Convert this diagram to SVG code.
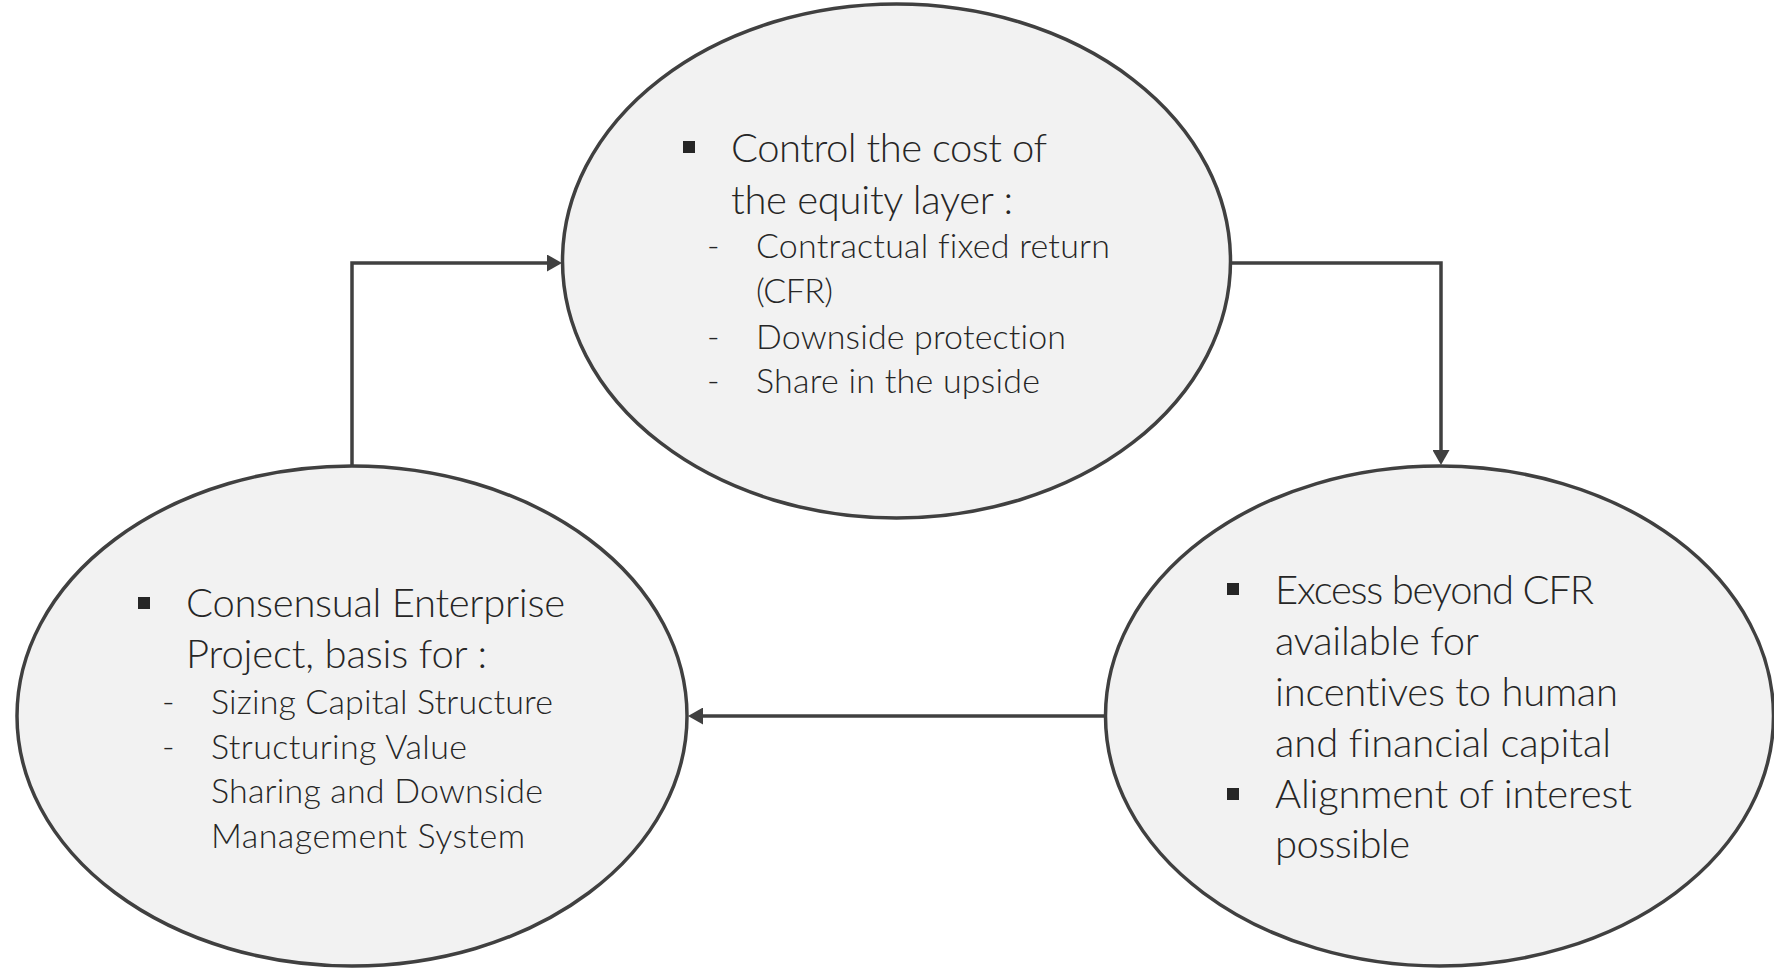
<svg xmlns="http://www.w3.org/2000/svg" width="1774" height="969" viewBox="0 0 1774 969">
  <style>
    .node { fill: #f2f2f2; stroke: #404040; stroke-width: 3.5; }
    .link { fill: none; stroke: #404040; stroke-width: 3.5; }
    text { font-family: Lato, "Open Sans", sans-serif; font-weight: 300; fill: #262626; font-variant-ligatures: none; }
    .main { font-size: 40px; }
    .sub { font-size: 34px; }
    .bullet { fill: #262626; }
  </style>
  <defs>
    <marker id="arrow" markerUnits="userSpaceOnUse" markerWidth="16" markerHeight="17" refX="9" refY="8.5" orient="auto">
      <path d="M0,0 L15,8.5 L0,17 z" fill="#404040"/>
    </marker>
  </defs>

  <rect width="1774" height="969" fill="#ffffff"/>

  <!-- connectors -->
  <g id="connectors">
    <path class="link" d="M352,466 V263 H556" marker-end="url(#arrow)"/>
    <path class="link" d="M1230,263 H1441 V459" marker-end="url(#arrow)"/>
    <path class="link" d="M1106,716 H694" marker-end="url(#arrow)"/>
  </g>

  <!-- equity layer cost control -->
  <g id="node-equity">
    <ellipse class="node" cx="896.5" cy="261" rx="334" ry="257"/>
    <rect class="bullet" x="683" y="141" width="12" height="12"/>
    <text class="main" x="731" y="162" textLength="316">Control the cost of</text>
    <text class="main" x="731" y="214" textLength="282">the equity layer :</text>
    <text class="sub" x="707" y="258">-</text>
    <text class="sub" x="756" y="258" textLength="354">Contractual fixed return</text>
    <text class="sub" x="756" y="303" textLength="77">(CFR)</text>
    <text class="sub" x="707" y="349">-</text>
    <text class="sub" x="756" y="349" textLength="310">Downside protection</text>
    <text class="sub" x="707" y="393">-</text>
    <text class="sub" x="756" y="393" textLength="284">Share in the upside</text>
  </g>

  <!-- excess return and incentives -->
  <g id="node-excess">
    <ellipse class="node" cx="1439.5" cy="716" rx="334" ry="250"/>
    <rect class="bullet" x="1227" y="583" width="12" height="12"/>
    <text class="main" x="1275" y="604" textLength="319">Excess beyond CFR</text>
    <text class="main" x="1275" y="655" textLength="204">available for</text>
    <text class="main" x="1275" y="706" textLength="343">incentives to human</text>
    <text class="main" x="1275" y="757" textLength="336">and financial capital</text>
    <rect class="bullet" x="1227" y="788" width="12" height="12"/>
    <text class="main" x="1275" y="808" textLength="357">Alignment of interest</text>
    <text class="main" x="1275" y="858" textLength="135">possible</text>
  </g>

  <!-- consensual enterprise project -->
  <g id="node-project">
    <ellipse class="node" cx="352" cy="716" rx="335" ry="250"/>
    <rect class="bullet" x="138" y="597" width="12" height="12"/>
    <text class="main" x="186" y="617" textLength="379">Consensual Enterprise</text>
    <text class="main" x="186" y="668" textLength="301">Project, basis for :</text>
    <text class="sub" x="162" y="714">-</text>
    <text class="sub" x="211" y="714" textLength="342">Sizing Capital Structure</text>
    <text class="sub" x="162" y="759">-</text>
    <text class="sub" x="211" y="759" textLength="256">Structuring Value</text>
    <text class="sub" x="211" y="803" textLength="332">Sharing and Downside</text>
    <text class="sub" x="211" y="848" textLength="314">Management System</text>
  </g>
</svg>
